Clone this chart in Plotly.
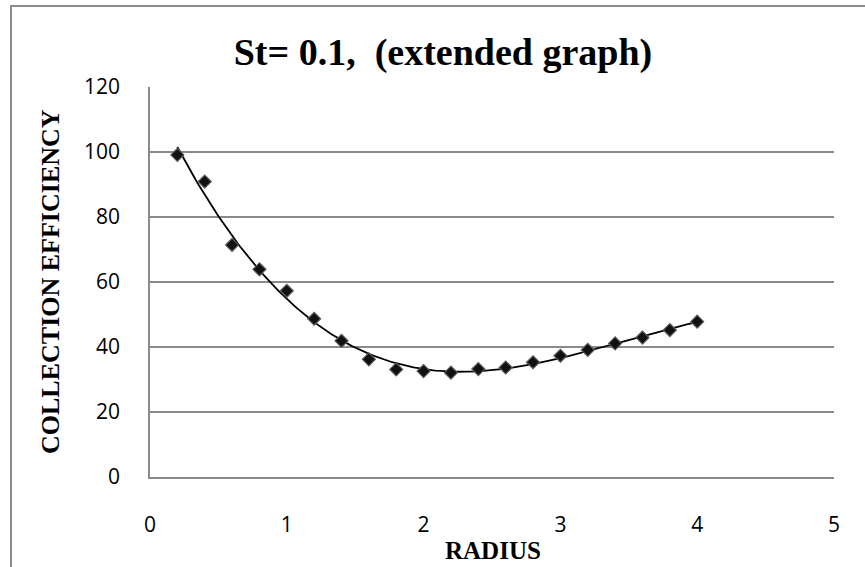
import numpy as np
import plotly.graph_objects as go

radius = [0.2, 0.4, 0.6, 0.8, 1.0, 1.2, 1.4, 1.6, 1.8, 2.0,
          2.2, 2.4, 2.6, 2.8, 3.0, 3.2, 3.4, 3.6, 3.8, 4.0]
efficiency = [99.1, 90.9, 71.4, 63.9, 57.3, 48.7, 41.9, 36.2, 33.1, 32.6,
              32.1, 33.2, 33.7, 35.3, 37.3, 39.1, 41.1, 42.9, 45.2, 47.8]
x_ticks = [0, 1, 2, 3, 4, 5]
y_ticks = [0, 20, 40, 60, 80, 100, 120]

# polynomial trendline fitted to the data (as in the spreadsheet)
coef = np.polyfit(radius, efficiency, 3)
fit_x = np.linspace(min(radius), max(radius), 200)
fit_y = np.polyval(coef, fit_x)

W, H = 865, 567
L, R, T, B = 150, 31, 87, 90
pw, ph = W - L - R, H - T - B

fig = go.Figure()
fig.add_trace(go.Scatter(x=fit_x, y=fit_y, mode="lines",
                         line=dict(color="black", width=1.8),
                         hoverinfo="skip", showlegend=False))
fig.add_trace(go.Scatter(x=radius, y=efficiency, mode="markers",
                         marker=dict(symbol="diamond", size=10, color="#111111",
                                     line=dict(color="#5a5a5a", width=1.2)),
                         showlegend=False))

serif = "Liberation Serif, Times New Roman, serif"
sans = "Open Sans, Liberation Sans, sans-serif"

fig.update_layout(
    width=W, height=H,
    margin=dict(l=L, r=R, t=T, b=B),
    paper_bgcolor="white", plot_bgcolor="white",
    title=dict(text="<b>St= 0.1,  (extended graph)</b>",
               font=dict(family=serif, size=38, color="black"),
               x=443 / W, xanchor="center", xref="container",
               y=1 - 52 / H, yanchor="middle", yref="container"),
    xaxis=dict(range=[0, 5], tickvals=x_ticks, showgrid=False,
               showline=True, linecolor="#8a8a8a", linewidth=1.5,
               zeroline=False, ticks="", ticklabelstandoff=28,
               tickfont=dict(family=sans, size=21, color="black")),
    yaxis=dict(range=[0, 120], tickvals=y_ticks, showgrid=True,
               gridcolor="#8a8a8a", gridwidth=1.5,
               showline=True, linecolor="#8a8a8a", linewidth=1.5,
               zeroline=False, ticks="", ticklabelstandoff=24,
               tickfont=dict(family=sans, size=21, color="black")),
    annotations=[
        dict(text="<b>COLLECTION EFFICIENCY</b>", textangle=-90,
             x=(50 - L) / pw, y=0.5, xref="paper", yref="paper",
             xanchor="center", yanchor="middle", showarrow=False,
             font=dict(family=serif, size=26, color="black")),
        dict(text="<b>RADIUS</b>",
             x=(493 - L) / pw, y=(T + ph - 550) / ph, xref="paper", yref="paper",
             xanchor="center", yanchor="middle", showarrow=False,
             font=dict(family=serif, size=25, color="black")),
    ],
    shapes=[dict(type="rect", xref="paper", yref="paper",
                 x0=(11 - L) / pw, x1=(880 - L) / pw,
                 y0=(T + ph - 590) / ph, y1=(T + ph - 6) / ph,
                 line=dict(color="#8c8c8c", width=2), fillcolor="rgba(0,0,0,0)",
                 layer="below")],
)

fig.write_html("out.html")
